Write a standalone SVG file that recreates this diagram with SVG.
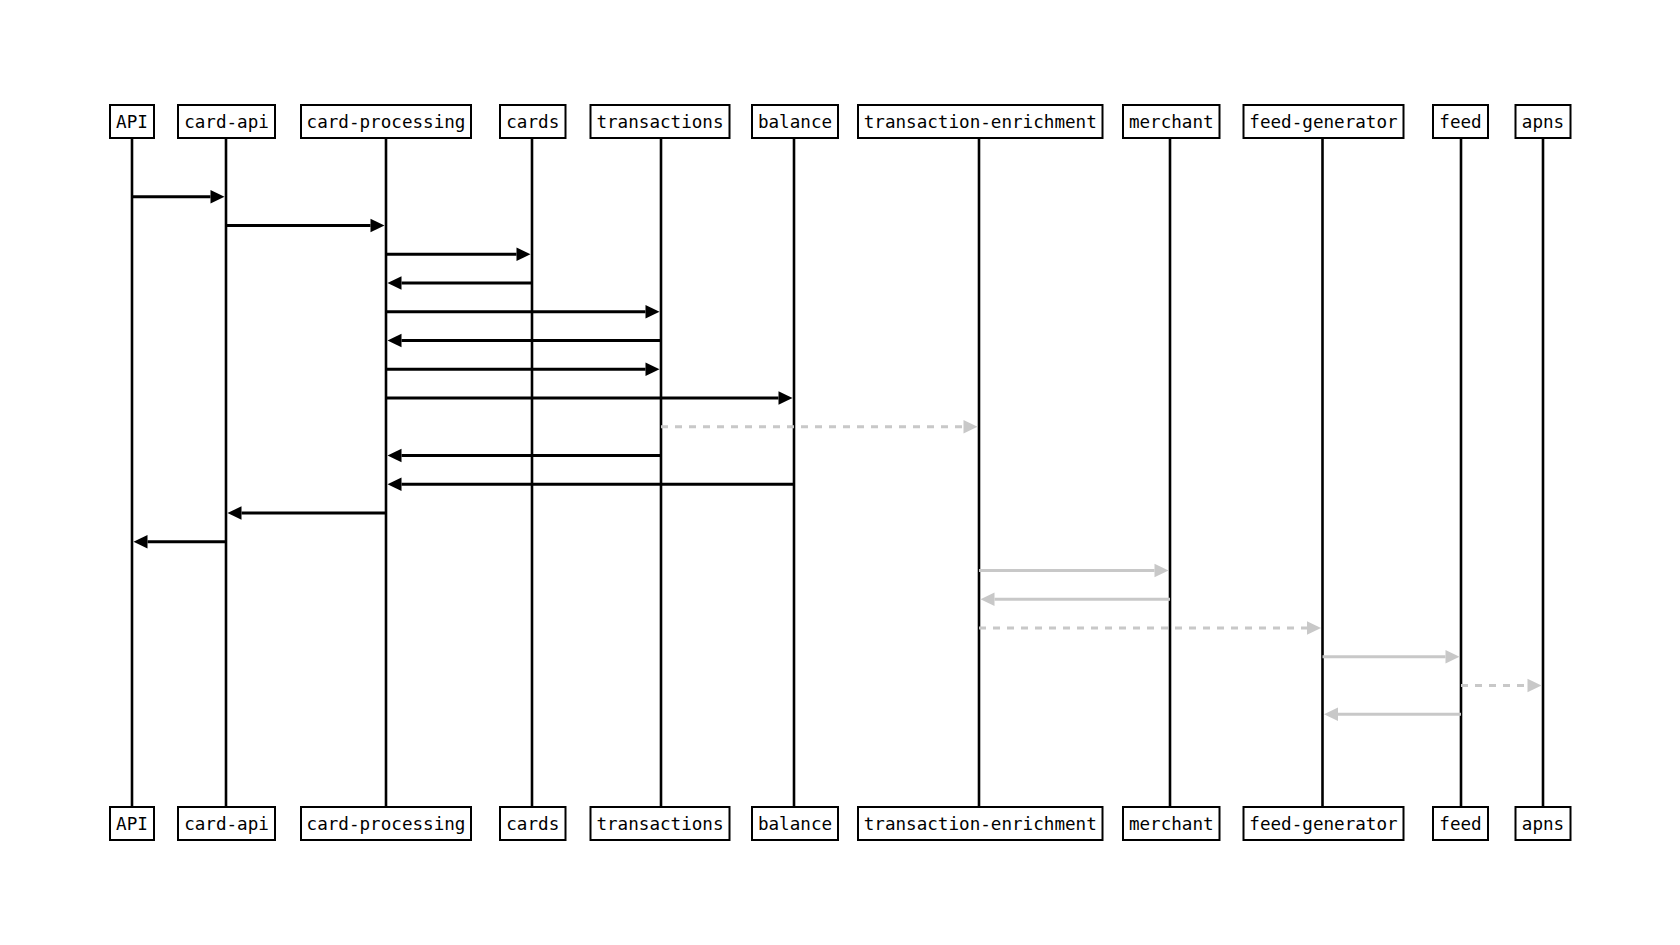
<svg xmlns="http://www.w3.org/2000/svg" width="1680" height="945" viewBox="0 0 1680 945">
<style>
.box{fill:#fff;stroke:#000;stroke-width:2}
.lbl{font-family:"DejaVu Sans Mono","Liberation Mono",monospace;font-size:17.6px;fill:#000;text-anchor:middle}
.life{stroke:#000;stroke-width:2.6}
.msg{stroke:#000;stroke-width:3;fill:none;marker-end:url(#hb)}
.gmsg{stroke:#c8c8c8;stroke-width:3;fill:none;marker-end:url(#hg)}
.dash{stroke-dasharray:7 7}
</style>
<defs>
<marker id="hb" markerUnits="userSpaceOnUse" markerWidth="15" markerHeight="14" refX="0" refY="7" orient="auto" overflow="visible"><path d="M0,0.3 L14,7 L0,13.7 z" fill="#000"/></marker>
<marker id="hg" markerUnits="userSpaceOnUse" markerWidth="15" markerHeight="14" refX="0" refY="7" orient="auto" overflow="visible"><path d="M0,0.3 L14,7 L0,13.7 z" fill="#c8c8c8"/></marker>
</defs>
<rect width="1680" height="945" fill="#fff"/>
<g id="lifelines">
<line class="life" x1="132" y1="138" x2="132" y2="807"/>
<line class="life" x1="226" y1="138" x2="226" y2="807"/>
<line class="life" x1="386" y1="138" x2="386" y2="807"/>
<line class="life" x1="532" y1="138" x2="532" y2="807"/>
<line class="life" x1="661" y1="138" x2="661" y2="807"/>
<line class="life" x1="794" y1="138" x2="794" y2="807"/>
<line class="life" x1="979" y1="138" x2="979" y2="807"/>
<line class="life" x1="1170" y1="138" x2="1170" y2="807"/>
<line class="life" x1="1322.5" y1="138" x2="1322.5" y2="807"/>
<line class="life" x1="1461" y1="138" x2="1461" y2="807"/>
<line class="life" x1="1543" y1="138" x2="1543" y2="807"/>
</g>
<g id="node-API"><rect class="box" x="110" y="105" width="44" height="33"/><text class="lbl" x="132" y="127.8">API</text><rect class="box" x="110" y="807" width="44" height="33"/><text class="lbl" x="132" y="829.8">API</text></g>
<g id="node-card-api"><rect class="box" x="178" y="105" width="97" height="33"/><text class="lbl" x="226.5" y="127.8">card-api</text><rect class="box" x="178" y="807" width="97" height="33"/><text class="lbl" x="226.5" y="829.8">card-api</text></g>
<g id="node-card-processing"><rect class="box" x="301" y="105" width="170" height="33"/><text class="lbl" x="386" y="127.8">card-processing</text><rect class="box" x="301" y="807" width="170" height="33"/><text class="lbl" x="386" y="829.8">card-processing</text></g>
<g id="node-cards"><rect class="box" x="500" y="105" width="65.5" height="33"/><text class="lbl" x="532.75" y="127.8">cards</text><rect class="box" x="500" y="807" width="65.5" height="33"/><text class="lbl" x="532.75" y="829.8">cards</text></g>
<g id="node-transactions"><rect class="box" x="590.5" y="105" width="139" height="33"/><text class="lbl" x="660" y="127.8">transactions</text><rect class="box" x="590.5" y="807" width="139" height="33"/><text class="lbl" x="660" y="829.8">transactions</text></g>
<g id="node-balance"><rect class="box" x="752" y="105" width="86" height="33"/><text class="lbl" x="795" y="127.8">balance</text><rect class="box" x="752" y="807" width="86" height="33"/><text class="lbl" x="795" y="829.8">balance</text></g>
<g id="node-transaction-enrichment"><rect class="box" x="858" y="105" width="244.5" height="33"/><text class="lbl" x="980.25" y="127.8">transaction-enrichment</text><rect class="box" x="858" y="807" width="244.5" height="33"/><text class="lbl" x="980.25" y="829.8">transaction-enrichment</text></g>
<g id="node-merchant"><rect class="box" x="1123" y="105" width="96.5" height="33"/><text class="lbl" x="1171.25" y="127.8">merchant</text><rect class="box" x="1123" y="807" width="96.5" height="33"/><text class="lbl" x="1171.25" y="829.8">merchant</text></g>
<g id="node-feed-generator"><rect class="box" x="1243.5" y="105" width="160" height="33"/><text class="lbl" x="1323.5" y="127.8">feed-generator</text><rect class="box" x="1243.5" y="807" width="160" height="33"/><text class="lbl" x="1323.5" y="829.8">feed-generator</text></g>
<g id="node-feed"><rect class="box" x="1433" y="105" width="55" height="33"/><text class="lbl" x="1460.5" y="127.8">feed</text><rect class="box" x="1433" y="807" width="55" height="33"/><text class="lbl" x="1460.5" y="829.8">feed</text></g>
<g id="node-apns"><rect class="box" x="1515.5" y="105" width="55" height="33"/><text class="lbl" x="1543" y="127.8">apns</text><rect class="box" x="1515.5" y="807" width="55" height="33"/><text class="lbl" x="1543" y="829.8">apns</text></g>
<g id="connectors">
<line class="msg" x1="132" y1="196.7" x2="210.5" y2="196.7"/>
<line class="msg" x1="226" y1="225.5" x2="370.5" y2="225.5"/>
<line class="msg" x1="386" y1="254.2" x2="516.5" y2="254.2"/>
<line class="msg" x1="532" y1="283" x2="401.5" y2="283"/>
<line class="msg" x1="386" y1="311.7" x2="645.5" y2="311.7"/>
<line class="msg" x1="661" y1="340.5" x2="401.5" y2="340.5"/>
<line class="msg" x1="386" y1="369.2" x2="645.5" y2="369.2"/>
<line class="msg" x1="386" y1="398" x2="778.5" y2="398"/>
<line class="gmsg dash" x1="661" y1="426.7" x2="963.5" y2="426.7"/>
<line class="msg" x1="661" y1="455.5" x2="401.5" y2="455.5"/>
<line class="msg" x1="794" y1="484.2" x2="401.5" y2="484.2"/>
<line class="msg" x1="386" y1="513" x2="241.5" y2="513"/>
<line class="msg" x1="226" y1="541.7" x2="147.5" y2="541.7"/>
<line class="gmsg" x1="979" y1="570.5" x2="1154.5" y2="570.5"/>
<line class="gmsg" x1="1170" y1="599.2" x2="994.5" y2="599.2"/>
<line class="gmsg dash" x1="979" y1="628" x2="1307" y2="628"/>
<line class="gmsg" x1="1322.5" y1="656.7" x2="1445.5" y2="656.7"/>
<line class="gmsg dash" x1="1461" y1="685.5" x2="1527.5" y2="685.5"/>
<line class="gmsg" x1="1461" y1="714.2" x2="1338" y2="714.2"/>
</g>
</svg>
